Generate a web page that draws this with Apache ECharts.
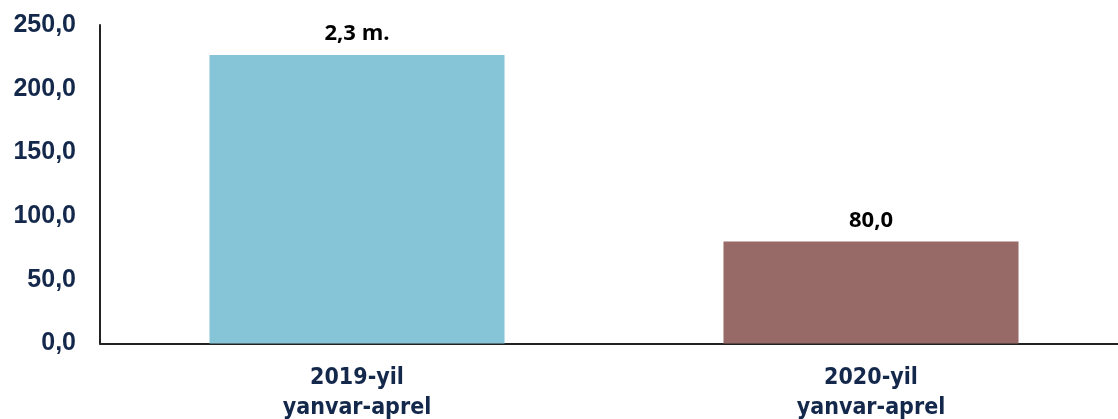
<!DOCTYPE html>
<html><head><meta charset="utf-8">
<script src="https://cdn.jsdelivr.net/npm/echarts@6/dist/echarts.min.js"></script>
<style>html,body{margin:0;padding:0;background:#fff}#c{width:1118px;height:419px}</style>
</head><body><div id="c"></div>
<script>
const categories = ["2019-yil\nyanvar-aprel", "2020-yil\nyanvar-aprel"];
const values = [226.5, 80.0];
const valueLabels = ["2,3 m.", "80,0"];
const barColors = ["#86C5D7", "#976967"];
const yMin = 0, yMax = 250, yStep = 50;

const chart = echarts.init(document.getElementById('c'));
chart.setOption({
  animation: false,
  grid: {left: 100, top: 25, bottom: 75.5, right: -10, containLabel: false, outerBoundsMode: 'none'},
  xAxis: {
    type: 'category', data: categories,
    axisLine: {show: true, lineStyle: {color: '#222', width: 2}},
    axisTick: {show: false},
    axisLabel: {
      margin: 20, color: '#14284B', fontWeight: 'bold', fontSize: 23, lineHeight: 30,
      fontFamily: '"Liberation Sans Narrow", "Arial Narrow", "DejaVu Sans Condensed", sans-serif'
    }
  },
  yAxis: {
    type: 'value', min: yMin, max: yMax, interval: yStep,
    axisLine: {show: true, lineStyle: {color: '#222', width: 2}},
    axisTick: {show: false},
    splitLine: {show: false},
    axisLabel: {
      margin: 24, color: '#14284B', fontWeight: 'bold', fontSize: 25,
      fontFamily: '"Liberation Sans", Arial, sans-serif',
      formatter: v => v.toFixed(1).replace('.', ',')
    }
  },
  series: [{
    type: 'bar', barWidth: '57.4%',
    data: values.map((v, i) => ({value: v, itemStyle: {color: barColors[i]}})),
    label: {
      show: true, position: 'top', distance: 10,
      color: '#000', fontWeight: 'bold', fontSize: 22,
      fontFamily: '"Open Sans", sans-serif',
      formatter: p => valueLabels[p.dataIndex]
    }
  }]
});
</script></body></html>
